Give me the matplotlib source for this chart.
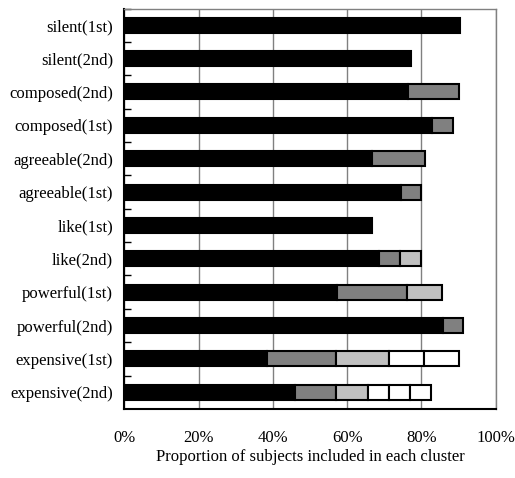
import numpy as np
import matplotlib
matplotlib.use("Agg")
import matplotlib.pyplot as plt
from matplotlib.ticker import FixedLocator

plt.rcParams['font.family'] = ['Liberation Serif', 'DejaVu Serif']

# categories, top to bottom
labels = ["silent(1st)", "silent(2nd)", "composed(2nd)", "composed(1st)",
          "agreeable(2nd)", "agreeable(1st)", "like(1st)", "like(2nd)",
          "powerful(1st)", "powerful(2nd)", "expensive(1st)", "expensive(2nd)"]

# proportion (%) of subjects in each cluster
cluster1 = [90.4, 77.2, 76.5, 82.9, 66.8, 74.5, 66.8, 68.7, 57.3, 85.7, 38.3, 46.0]
cluster2 = [0, 0, 13.7, 5.7, 14.1, 5.5, 0, 5.4, 18.8, 5.6, 18.7, 11.0]
cluster3 = [0, 0, 0, 0, 0, 0, 0, 5.8, 9.4, 0, 14.3, 8.5]
cluster4 = [0, 0, 0, 0, 0, 0, 0, 0, 0, 0, 9.5, 5.8]
cluster5 = [0, 0, 0, 0, 0, 0, 0, 0, 0, 0, 9.4, 5.7]
cluster6 = [0, 0, 0, 0, 0, 0, 0, 0, 0, 0, 0, 5.7]

clusters = [cluster1, cluster2, cluster3, cluster4, cluster5, cluster6]
colors = ['black', '#808080', '#c0c0c0', 'white', 'white', 'white']

fig = plt.figure(figsize=(5.15, 4.78), dpi=100)
ax = fig.add_axes([0.2414, 0.1444, 0.7211, 0.8378])

y = np.arange(len(labels))
left = np.zeros(len(labels))
for vals, col in zip(clusters, colors):
    vals = np.array(vals, dtype=float)
    mask = vals > 0
    ax.barh(y[mask], vals[mask], left=left[mask], height=0.45,
            color=col, edgecolor='black', linewidth=1.5, zorder=3)
    left += vals

ax.set_xlim(0, 100)
ax.set_ylim(len(labels) - 0.5, -0.5)

ax.set_xticks(np.arange(0, 101, 20))
ax.set_xticklabels([f"{v}%" for v in range(0, 101, 20)], fontsize=12)
ax.tick_params(axis='x', length=0, pad=15)
ax.xaxis.grid(True, color='#808080', linewidth=1.0, zorder=0)

ax.set_yticks(y)
ax.set_yticklabels(labels, fontsize=12)
ax.tick_params(axis='y', which='major', length=0, pad=8)
ax.yaxis.set_minor_locator(FixedLocator(np.arange(-0.5, len(labels) - 1, 1)))
ax.tick_params(axis='y', which='minor', direction='in', length=5, width=1, color='black')

ax.set_xlabel("Proportion of subjects included in each cluster", fontsize=12, labelpad=2)

for side in ['top', 'right']:
    ax.spines[side].set_color('#808080')
    ax.spines[side].set_linewidth(1.0)
for side in ['left', 'bottom']:
    ax.spines[side].set_color('black')
    ax.spines[side].set_linewidth(1.5)

fig.savefig("out.png", dpi=100)
